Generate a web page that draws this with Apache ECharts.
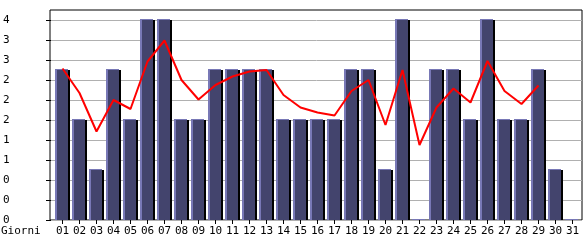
<!DOCTYPE html>
<html>
<head>
<meta charset="utf-8">
<script src="https://cdn.jsdelivr.net/npm/echarts@6/dist/echarts.min.js"></script>
<style>
  html, body { margin: 0; padding: 0; background: #fff; }
  #chart { width: 585px; height: 240px; }
</style>
</head>
<body>
<div id="chart"></div>
<script>
// giorni del mese
const days = ["01","02","03","04","05","06","07","08","09","10","11","12","13","14","15","16",
  "17","18","19","20","21","22","23","24","25","26","27","28","29","30","31"];
// valori barre
const counts = [3,2,1,3,2,4,4,2,2,3,3,3,3,2,2,2,2,3,3,1,4,0,3,3,2,4,2,2,3,1,0];
// linea rossa (media)
const trend = [3.03,2.54,1.77,2.4,2.22,3.17,3.59,2.8,2.41,2.7,2.87,2.97,3.0,2.5,2.25,2.15,2.09,
  2.58,2.8,1.9,3.0,1.5,2.25,2.63,2.35,3.18,2.58,2.32,2.69,null,null];
// etichette asse y (0 .. 4 passo 0.4)
const yTickLabels = ["0","0","0","1","1","2","2","2","3","3","4"];

const FONT = "DejaVu Sans Mono";
const chart = echarts.init(document.getElementById("chart"));

chart.setOption({
  animation: false,
  grid: [
    // cornice
    { left: 50, right: 3, top: 10, bottom: 20, show: true, borderColor: "#000", borderWidth: 1 },
    // griglia asse y
    { left: 50, right: 3, top: 20, bottom: 20 },
    // dati
    { left: 54, right: 4, top: 20, bottom: 20 },
  ],
  xAxis: [
    { gridIndex: 0, type: "value", show: false },
    { gridIndex: 1, type: "value", show: false },
    {
      gridIndex: 2,
      type: "category",
      data: days,
      axisLine: { show: false },
      axisTick: { show: true, alignWithLabel: true, length: 4, lineStyle: { color: "#000" } },
      axisLabel: { color: "#000", fontFamily: FONT, fontSize: 11, margin: 6, interval: 0 },
    },
  ],
  yAxis: [
    { gridIndex: 0, type: "value", show: false },
    {
      gridIndex: 1,
      type: "value",
      min: 0,
      max: 4,
      interval: 0.4,
      axisLine: { show: false },
      axisTick: { show: true, length: 5, lineStyle: { color: "#000" } },
      splitLine: { lineStyle: { color: "#b0b0b0", width: 1 } },
      axisLabel: {
        color: "#000",
        fontFamily: FONT,
        fontSize: 11,
        align: "left",
        margin: 48,
        formatter: (v) => yTickLabels[Math.round(v / 0.4)] || "",
      },
    },
    { gridIndex: 2, type: "value", min: 0, max: 4, show: false },
  ],
  graphic: [
    { type: "text", left: 1, top: 226, style: { text: "Giorni", font: "11px " + FONT, fill: "#000" } },
  ],
  series: [
    {
      type: "custom",
      xAxisIndex: 2,
      yAxisIndex: 2,
      encode: { x: 0, y: 1 },
      data: counts.map((v, i) => [i, v]),
      renderItem: (params, api) => {
        const base = api.coord([api.value(0), 0]);
        const top = api.coord([api.value(0), api.value(1)]);
        const w = 15;
        const x = Math.round(base[0] - w / 2);
        const y0 = Math.round(base[1]);
        const y1 = Math.round(top[1]);
        const h = y0 - y1;
        return {
          type: "group",
          children: [
            { type: "rect", shape: { x: x, y: y1 - 1, width: w - 2, height: h + 1 }, style: { fill: "#7878b6" } },
            { type: "rect", shape: { x: x + 2, y: y1, width: w - 4, height: h }, style: { fill: "#43446d" } },
            { type: "rect", shape: { x: x + w - 2, y: y1, width: 2, height: h }, style: { fill: "#000" } },
          ],
        };
      },
    },
    {
      type: "line",
      xAxisIndex: 2,
      yAxisIndex: 2,
      data: trend,
      showSymbol: false,
      symbol: "none",
      lineStyle: { color: "#ff0000", width: 2 },
      z: 5,
    },
  ],
});
</script>
</body>
</html>
